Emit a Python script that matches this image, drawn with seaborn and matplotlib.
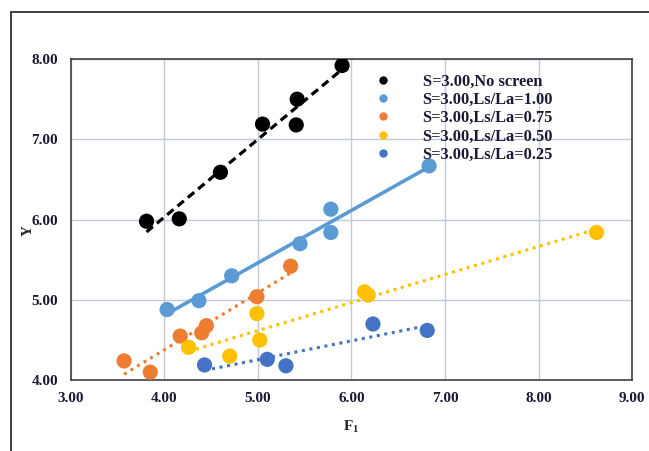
import matplotlib
matplotlib.use("Agg")
import matplotlib.pyplot as plt
from matplotlib.lines import Line2D
from matplotlib.patches import Rectangle
import numpy as np
import pandas as pd
import seaborn as sns

# Measured Y against F1 for each screen configuration
labels = [
    "S=3.00,No screen",
    "S=3.00,Ls/La=1.00",
    "S=3.00,Ls/La=0.75",
    "S=3.00,Ls/La=0.50",
    "S=3.00,Ls/La=0.25",
]
colors = ["#000000", "#5b9bd5", "#ed7d31", "#ffc000", "#4472c4"]

f1_no_screen = [3.81, 4.16, 4.60, 5.05, 5.41, 5.42, 5.90]
y_no_screen = [5.98, 6.01, 6.59, 7.19, 7.18, 7.50, 7.92]

f1_ls100 = [4.03, 4.37, 4.72, 5.45, 5.78, 5.78, 6.83]
y_ls100 = [4.88, 4.99, 5.30, 5.70, 5.84, 6.13, 6.67]

f1_ls075 = [3.57, 3.85, 4.17, 4.40, 4.45, 4.99, 5.35]
y_ls075 = [4.24, 4.10, 4.55, 4.59, 4.68, 5.04, 5.42]

f1_ls050 = [4.26, 4.70, 4.99, 5.02, 6.14, 6.18, 8.62]
y_ls050 = [4.41, 4.30, 4.83, 4.50, 5.10, 5.06, 5.84]

f1_ls025 = [4.43, 5.10, 5.30, 6.23, 6.81]
y_ls025 = [4.19, 4.26, 4.18, 4.70, 4.62]

x_ticks = [3.0, 4.0, 5.0, 6.0, 7.0, 8.0, 9.0]
y_ticks = [4.0, 5.0, 6.0, 7.0, 8.0]

series_x = [f1_no_screen, f1_ls100, f1_ls075, f1_ls050, f1_ls025]
series_y = [y_no_screen, y_ls100, y_ls075, y_ls050, y_ls025]

frames = []
for lab, xs, ys in zip(labels, series_x, series_y):
    frames.append(pd.DataFrame({"F1": xs, "Y": ys, "series": lab}))
df = pd.concat(frames, ignore_index=True)

sns.set_style("white")
plt.rcParams["font.family"] = ["Liberation Serif", "DejaVu Serif"]
plt.rcParams["mathtext.default"] = "regular"

fig = plt.figure(figsize=(6.49, 4.51), dpi=100)
ax = fig.add_axes([0.109, 0.157, 0.865, 0.712])

line_styles = [
    dict(linestyle=(0, (2.6, 1.6)), linewidth=2.3),
    dict(linestyle="-", linewidth=2.6),
    dict(linestyle=(0, (1, 1.5)), linewidth=2.2),
    dict(linestyle=(0, (1, 1.5)), linewidth=2.2),
    dict(linestyle=(0, (1, 1.5)), linewidth=2.2),
]

# linear trend line for each series
for lab, col, ls in zip(labels, colors, line_styles):
    sub = df[df["series"] == lab]
    sns.regplot(data=sub, x="F1", y="Y", ax=ax, ci=None, scatter=False,
                color=col, line_kws=ls)
for lab, col in zip(labels, colors):
    sub = df[df["series"] == lab]
    sns.scatterplot(data=sub, x="F1", y="Y", ax=ax, color=col, s=120,
                    edgecolor="none", zorder=3, legend=False)

ax.set_xlim(3, 9)
ax.set_ylim(4, 8)
ax.set_xticks(x_ticks)
ax.set_yticks(y_ticks)
ax.set_xticklabels([f"{v:.2f}" for v in x_ticks])
ax.set_yticklabels([f"{v:.2f}" for v in y_ticks])
ax.grid(True, color="#c3c9dd", linewidth=1.0)
ax.set_axisbelow(True)
for sp in ax.spines.values():
    sp.set_color("#404040")
    sp.set_linewidth(1.2)
ax.tick_params(axis="both", which="major", direction="out", length=3.6,
               width=1.0, color="#404040", labelsize=11)
ax.tick_params(axis="y", pad=5.5)
ax.tick_params(axis="x", pad=5)
for t in ax.get_xticklabels() + ax.get_yticklabels():
    t.set_fontweight("bold")
    t.set_color("#1a1a33")

ax.set_xlabel("F$_1$", fontsize=11, fontweight="bold", labelpad=10)
ax.set_ylabel("Y", fontsize=11, fontweight="bold")
ax.yaxis.set_label_coords(-0.064, 0.465)

handles = [Line2D([], [], linestyle="none", marker="o", markersize=6,
                  markerfacecolor=c, markeredgecolor="none") for c in colors]
leg = ax.legend(handles, labels, loc="upper left",
                bbox_to_anchor=(0.545, 0.955), frameon=False, fontsize=11.8,
                handlelength=0.8, handletextpad=2.0, labelspacing=0.14,
                borderpad=0, borderaxespad=0)
for t in leg.get_texts():
    t.set_fontweight("bold")
    t.set_color("#1a1a33")

# outer frame around the chart area
fig.patches.append(Rectangle((0.017, -0.05), 1.1, 1.023, transform=fig.transFigure,
                             fill=False, edgecolor="#303030", linewidth=1.3))

fig.savefig("out.png", dpi=100)
